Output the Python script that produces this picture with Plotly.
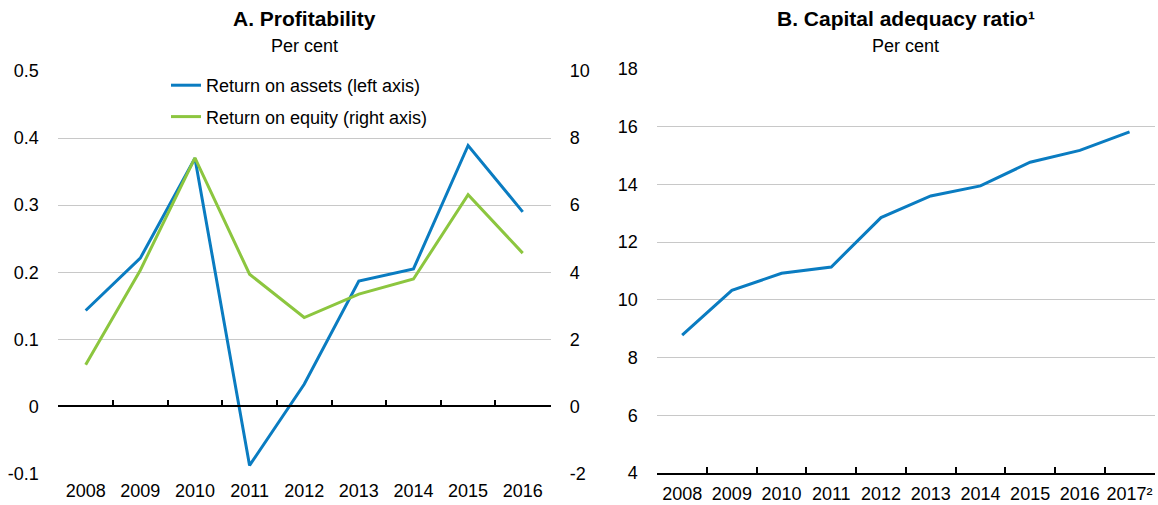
import plotly.graph_objects as go

years_a = ["2008", "2009", "2010", "2011", "2012", "2013", "2014", "2015", "2016"]
roa = [0.143, 0.221, 0.370, -0.088, 0.033, 0.187, 0.205, 0.389, 0.290]
roe = [1.24, 4.06, 7.41, 3.94, 2.65, 3.35, 3.80, 6.31, 4.57]

years_b = ["2008", "2009", "2010", "2011", "2012", "2013", "2014", "2015", "2016", "2017²"]
car = [8.78, 10.33, 10.92, 11.14, 12.85, 13.60, 13.95, 14.77, 15.18, 15.82]

left_ticks = [-0.1, 0, 0.1, 0.2, 0.3, 0.4, 0.5]
left_ticktext = ["-0.1", "0", "0.1", "0.2", "0.3", "0.4", "0.5"]
right_ticks = [-2, 0, 2, 4, 6, 8, 10]
right_ticktext = ["-2", "0", "2", "4", "6", "8", "10"]
b_ticks = [4, 6, 8, 10, 12, 14, 16, 18]

W, H = 1158, 505
FONT = "Liberation Sans Narrow, Arial Narrow, Liberation Sans, Arial, sans-serif"
BLUE = "#0a7cc1"
GREEN = "#8cc63f"
GRID = "#c8c8c8"

def fx(px):
    return px / W

def fy(py):
    return 1 - py / H

# domains
ax_l0, ax_l1 = fx(57.7), fx(550.7)
ax_r0, ax_r1 = fx(656.7), fx(1155)
ya0, ya1 = fy(473.5), fy(71)
yb0, yb1 = fy(473), fy(69)
zero_pos = ya0 + (0 - (-0.1)) / 0.6 * (ya1 - ya0)

na = len(years_a)
nb = len(years_b)
eps = 0.012

fig = go.Figure()

fig.add_trace(go.Scatter(x=years_a, y=roa, mode="lines", name="Return on assets (left axis)",
                         line=dict(color=BLUE, width=3), xaxis="x", yaxis="y",
                         legendgroup="a"))
fig.add_trace(go.Scatter(x=years_a, y=roe, mode="lines", name="Return on equity (right axis)",
                         line=dict(color=GREEN, width=3), xaxis="x", yaxis="y2",
                         legendgroup="b"))
# invisible carrier for zero-line axis ticks
fig.add_trace(go.Scatter(x=years_a, y=roa, mode="lines", showlegend=False, hoverinfo="skip",
                         line=dict(color="rgba(0,0,0,0)", width=0), xaxis="x4", yaxis="y"))
fig.add_trace(go.Scatter(x=years_b, y=car, mode="lines", showlegend=False,
                         line=dict(color=BLUE, width=3), xaxis="x2", yaxis="y3"))

tickfont = dict(family=FONT, size=18, color="#000000")

fig.update_layout(
    width=W, height=H,
    margin=dict(l=0, r=0, t=0, b=0, autoexpand=False),
    paper_bgcolor="white", plot_bgcolor="white",
    font=dict(family=FONT, size=18, color="#000000"),
    showlegend=True,
    legend=dict(x=fx(166), y=fy(67), xanchor="left", yanchor="top",
                bgcolor="rgba(0,0,0,0)", font=dict(family=FONT, size=18),
                traceorder="grouped", tracegroupgap=5, itemwidth=30),
    xaxis=dict(domain=[ax_l0, ax_l1], anchor="y", type="category",
               categoryorder="array", categoryarray=years_a, range=[-0.5 - eps, na - 0.5 + eps],
               showline=False, ticks="", showgrid=False, zeroline=False, automargin=False,
               tickangle=0, tickfont=tickfont, ticklabelstandoff=4),
    xaxis4=dict(domain=[ax_l0, ax_l1], anchor="free", position=zero_pos, overlaying="x",
                type="category", categoryorder="array", categoryarray=years_a,
                range=[-0.5 - eps, na - 0.5 + eps], automargin=False,
                showline=True, linecolor="#000000", linewidth=1.5,
                ticks="inside", tickson="boundaries", ticklen=6, tickwidth=1.5, tickcolor="#000000",
                showticklabels=False, showgrid=False, zeroline=False),
    yaxis=dict(domain=[ya0, ya1], anchor="x", range=[-0.1, 0.5], automargin=False,
               tickvals=left_ticks, ticktext=left_ticktext,
               showgrid=True, gridcolor=GRID, gridwidth=1.3, zeroline=False,
               showline=False, ticks="", tickfont=tickfont, ticklabelstandoff=18),
    yaxis2=dict(domain=[ya0, ya1], anchor="x", overlaying="y", side="right", automargin=False,
                range=[-2, 10], tickvals=right_ticks, ticktext=right_ticktext,
                showgrid=False, zeroline=False, showline=False, ticks="",
                tickfont=tickfont, ticklabelstandoff=18),
    xaxis2=dict(domain=[ax_r0, ax_r1], anchor="y3", type="category",
                categoryorder="array", categoryarray=years_b, range=[-0.5 - eps, nb - 0.5 + eps],
                automargin=False, tickangle=0,
                showline=True, linecolor="#000000", linewidth=1.5,
                ticks="inside", tickson="boundaries", ticklen=6, tickwidth=1.5, tickcolor="#000000",
                showgrid=False, zeroline=False, tickfont=tickfont, ticklabelstandoff=4),
    yaxis3=dict(domain=[yb0, yb1], anchor="x2", range=[4, 18], tickvals=b_ticks, automargin=False,
                showgrid=True, gridcolor=GRID, gridwidth=1.3, zeroline=False,
                showline=False, ticks="", tickfont=tickfont, ticklabelstandoff=18),
)

fig.add_annotation(text="<b>A. Profitability</b>", x=(ax_l0 + ax_l1) / 2, y=fy(18),
                   xref="paper", yref="paper", showarrow=False, xanchor="center", yanchor="middle",
                   font=dict(family=FONT, size=21, color="#000000"))
fig.add_annotation(text="Per cent", x=(ax_l0 + ax_l1) / 2, y=fy(46),
                   xref="paper", yref="paper", showarrow=False, xanchor="center", yanchor="middle",
                   font=dict(family=FONT, size=18, color="#000000"))
fig.add_annotation(text="<b>B. Capital adequacy ratio¹</b>", x=(ax_r0 + ax_r1) / 2, y=fy(18),
                   xref="paper", yref="paper", showarrow=False, xanchor="center", yanchor="middle",
                   font=dict(family=FONT, size=21, color="#000000"))
fig.add_annotation(text="Per cent", x=(ax_r0 + ax_r1) / 2, y=fy(46),
                   xref="paper", yref="paper", showarrow=False, xanchor="center", yanchor="middle",
                   font=dict(family=FONT, size=18, color="#000000"))

fig.write_html("out.html", config={"displayModeBar": False},
               post_script="document.body.style.margin='0';document.body.style.overflow='hidden';")
